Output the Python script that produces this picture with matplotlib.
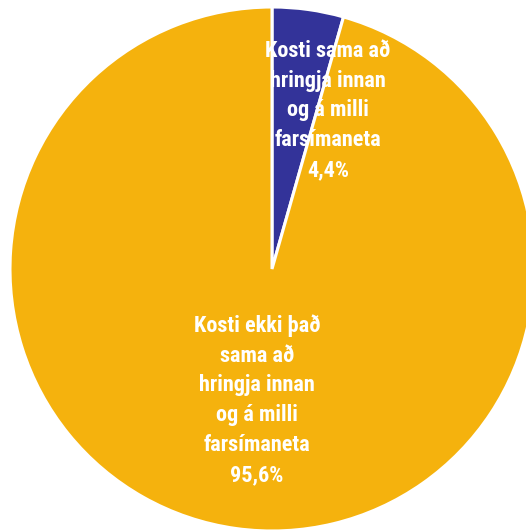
import matplotlib
matplotlib.use("Agg")
import matplotlib.pyplot as plt

labels = ["Kosti sama að\nhringja innan\nog á milli\nfarsímaneta", "Kosti ekki það\nsama að\nhringja innan\nog á milli\nfarsímaneta"]
values = [4.4, 95.6]
pct_labels = ["4,4%", "95,6%"]
colors = ["#333399", "#F5B20D"]

fig = plt.figure(figsize=(5.26, 5.30), dpi=100)
ax = fig.add_axes([10/526, -1/530, 524/526, 524/530])
wedges, _ = ax.pie(values, colors=colors, startangle=90, counterclock=False,
                   radius=1.0, wedgeprops=dict(edgecolor="white", linewidth=2.2))
for w in wedges:
    w.set_clip_on(False)
ax.set_xlim(-1, 1)
ax.set_ylim(-1, 1)
ax.set_aspect("equal")
ax.axis("off")

fam = ["Roboto Condensed", "DejaVu Sans"]
pos = [(0.214, 0.605), (-0.057, -0.50)]
for lab, pct, (x, y) in zip(labels, pct_labels, pos):
    ax.text(x, y, lab + "\n" + pct, ha="center", va="center", color="white",
            fontsize=16, fontweight="bold", family=fam, linespacing=1.46)

fig.savefig("out.png", dpi=100)
